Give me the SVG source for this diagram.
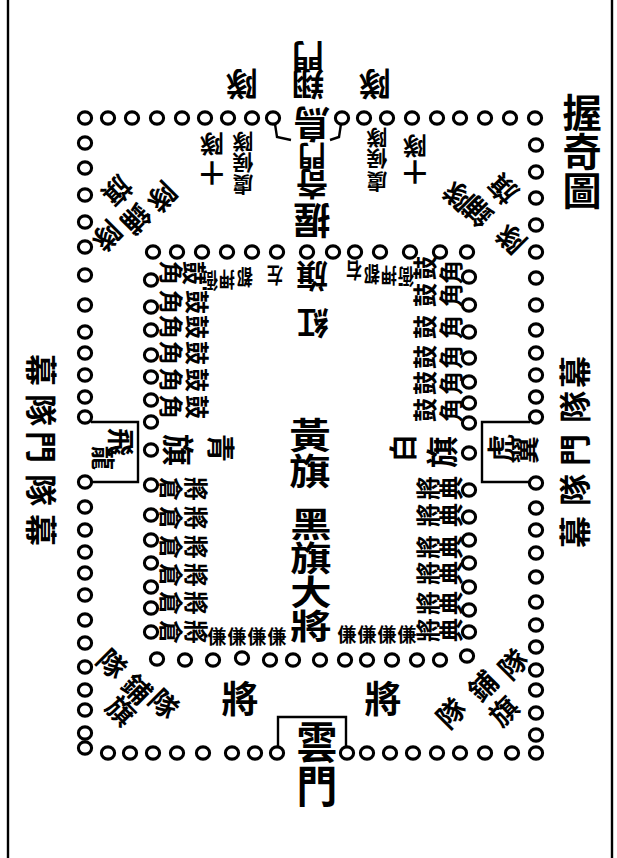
<svg xmlns="http://www.w3.org/2000/svg" width="617" height="858" viewBox="0 0 617 858">
<style>
.o{fill:none;stroke:#000;stroke-width:3.1}
.ln{fill:none;stroke:#000;stroke-width:2.4}
text{font-family:"Noto Sans CJK TC","Noto Sans CJK SC",sans-serif;font-weight:700;fill:#000;text-anchor:middle;dominant-baseline:central}
.v{writing-mode:vertical-rl}
.xl{font-size:34px}.t{font-size:34px}.l{font-size:37px}.cn{font-size:30px}.m{font-size:32px}.s{font-size:28px}.r{font-size:24px}.xs{font-size:21px}.a{font-size:19px}.h{font-size:19px}
</style>
<defs><ellipse id="o" class="o" rx="6.6" ry="6.1"/></defs>
<rect width="617" height="858" fill="#fff"/>
<g id="frame"><line class="ln" x1="8" y1="0" x2="8" y2="858"/><line class="ln" x1="612" y1="0" x2="612" y2="858"/></g>
<g id="outer-ring">
<use href="#o" x="85" y="118"/><use href="#o" x="108" y="118"/><use href="#o" x="132" y="118"/><use href="#o" x="157" y="118"/><use href="#o" x="182" y="118"/><use href="#o" x="205" y="118"/><use href="#o" x="228" y="118"/><use href="#o" x="252" y="118"/><use href="#o" x="273" y="118"/>
<use href="#o" x="342" y="118"/><use href="#o" x="364" y="118"/><use href="#o" x="387" y="118"/><use href="#o" x="412" y="118"/><use href="#o" x="437" y="118"/><use href="#o" x="460" y="118"/><use href="#o" x="485" y="118"/><use href="#o" x="510" y="118"/><use href="#o" x="535" y="118"/>
<use href="#o" x="536" y="145"/><use href="#o" x="536" y="172"/><use href="#o" x="536" y="198"/><use href="#o" x="536" y="225"/><use href="#o" x="536" y="252"/><use href="#o" x="536" y="278"/><use href="#o" x="536" y="305"/><use href="#o" x="536" y="330"/><use href="#o" x="536" y="353"/><use href="#o" x="536" y="375"/><use href="#o" x="536" y="397"/><use href="#o" x="536" y="417"/>
<use href="#o" x="536" y="483"/><use href="#o" x="536" y="508"/><use href="#o" x="536" y="530"/><use href="#o" x="536" y="553"/><use href="#o" x="536" y="577"/><use href="#o" x="536" y="602"/><use href="#o" x="536" y="625"/><use href="#o" x="536" y="647"/><use href="#o" x="536" y="670"/><use href="#o" x="536" y="690"/><use href="#o" x="536" y="713"/><use href="#o" x="536" y="735"/><use href="#o" x="536" y="753"/>
<use href="#o" x="108" y="753"/><use href="#o" x="130" y="753"/><use href="#o" x="153" y="753"/><use href="#o" x="177" y="753"/><use href="#o" x="203" y="753"/><use href="#o" x="232" y="753"/><use href="#o" x="255" y="753"/><use href="#o" x="277" y="753"/>
<use href="#o" x="347" y="753"/><use href="#o" x="367" y="753"/><use href="#o" x="390" y="753"/><use href="#o" x="413" y="753"/><use href="#o" x="437" y="753"/><use href="#o" x="460" y="753"/><use href="#o" x="485" y="753"/><use href="#o" x="512" y="753"/>
<use href="#o" x="85" y="143"/><use href="#o" x="85" y="168"/><use href="#o" x="85" y="195"/><use href="#o" x="85" y="222"/><use href="#o" x="85" y="247"/><use href="#o" x="85" y="275"/><use href="#o" x="85" y="305"/><use href="#o" x="85" y="332"/><use href="#o" x="85" y="353"/><use href="#o" x="85" y="375"/><use href="#o" x="85" y="397"/><use href="#o" x="85" y="417"/>
<use href="#o" x="85" y="482"/><use href="#o" x="85" y="507"/><use href="#o" x="85" y="530"/><use href="#o" x="85" y="552"/><use href="#o" x="85" y="573"/><use href="#o" x="85" y="595"/><use href="#o" x="85" y="620"/><use href="#o" x="85" y="643"/><use href="#o" x="85" y="667"/><use href="#o" x="85" y="690"/><use href="#o" x="85" y="710"/><use href="#o" x="85" y="733"/><use href="#o" x="85" y="748"/>
</g>
<g id="inner-ring">
<use href="#o" x="153" y="252"/><use href="#o" x="177" y="252"/><use href="#o" x="202" y="252"/><use href="#o" x="227" y="252"/><use href="#o" x="252" y="252"/><use href="#o" x="277" y="252"/><use href="#o" x="307" y="252"/><use href="#o" x="333" y="252"/><use href="#o" x="355" y="252"/><use href="#o" x="380" y="252"/><use href="#o" x="410" y="252"/><use href="#o" x="440" y="252"/><use href="#o" x="467" y="252"/>
<use href="#o" x="469" y="277"/><use href="#o" x="469" y="305"/><use href="#o" x="469" y="332"/><use href="#o" x="469" y="358"/><use href="#o" x="469" y="382"/><use href="#o" x="469" y="403"/><use href="#o" x="469" y="423"/><use href="#o" x="469" y="453"/><use href="#o" x="469" y="490"/><use href="#o" x="469" y="517"/><use href="#o" x="469" y="540"/><use href="#o" x="469" y="563"/><use href="#o" x="469" y="587"/><use href="#o" x="469" y="610"/><use href="#o" x="469" y="632"/>
<use href="#o" x="157" y="659"/><use href="#o" x="185" y="660"/><use href="#o" x="213" y="660"/><use href="#o" x="242" y="658"/><use href="#o" x="270" y="660"/><use href="#o" x="293" y="660"/><use href="#o" x="320" y="660"/><use href="#o" x="345" y="660"/><use href="#o" x="367" y="660"/><use href="#o" x="392" y="660"/><use href="#o" x="417" y="660"/><use href="#o" x="440" y="660"/><use href="#o" x="467" y="656"/>
<use href="#o" x="151" y="280"/><use href="#o" x="151" y="307"/><use href="#o" x="151" y="330"/><use href="#o" x="151" y="355"/><use href="#o" x="151" y="377"/><use href="#o" x="151" y="400"/><use href="#o" x="151" y="422"/><use href="#o" x="151" y="450"/><use href="#o" x="151" y="485"/><use href="#o" x="151" y="515"/><use href="#o" x="151" y="540"/><use href="#o" x="151" y="563"/><use href="#o" x="151" y="587"/><use href="#o" x="151" y="608"/><use href="#o" x="151" y="632"/>
</g>
<g id="connectors">
<path class="ln" d="M275 124 L277 137 L291 140"/>
<path class="ln" d="M341 124 L339 137 L330 140"/>
<path class="ln" d="M91 422 H138 V482 H91"/>
<path class="ln" d="M530 422 H482 V482 H530"/>
<path class="ln" d="M278 747 V717 H346 V747"/>
</g>
<g id="title">
<text class="t v" transform="translate(582,151) scale(1.15,1.15)">握奇圖</text>
</g>
<g id="gate-top">
<text class="m" transform="translate(308,58) rotate(180)">門</text>
<text class="m" transform="translate(308,86) rotate(180)">翔</text>
<text class="m" transform="translate(242,86) rotate(180)">隊</text>
<text class="m" transform="translate(375,86) rotate(180)">隊</text>
<text class="l" transform="translate(312,126) rotate(180)">鳥</text>
</g>
<g id="top-centre">
<text class="s" transform="translate(312,157) rotate(180)">門</text>
<text class="m" transform="translate(312,186) rotate(180)">奇</text>
<text class="l" transform="translate(312,222) rotate(180)">握</text>
</g>
<g id="top-left-squads">
<text class="r" transform="translate(212,145) rotate(180)">隊</text>
<text class="r" transform="translate(212,174) rotate(180)">十</text>
<text class="xs" transform="translate(243,143) rotate(180)">隊</text>
<text class="xs" transform="translate(243,164) rotate(180)">候</text>
<text class="xs" transform="translate(243,186) rotate(180)">虞</text>
</g>
<g id="top-right-squads">
<text class="xs" transform="translate(377,139) rotate(180)">隊</text>
<text class="xs" transform="translate(377,160) rotate(180)">候</text>
<text class="xs" transform="translate(377,183) rotate(180)">虞</text>
<text class="r" transform="translate(415,147) rotate(180)">隊</text>
<text class="r" transform="translate(415,173) rotate(180)">十</text>
</g>
<g id="corner-ul">
<text class="s" transform="translate(163,198) rotate(135)">隊</text>
<text class="s" transform="translate(137,220) rotate(135)">鋪</text>
<text class="s" transform="translate(108,237) rotate(135)">隊</text>
<text class="s" transform="translate(118,192) rotate(135)">旗</text>
</g>
<g id="corner-ur">
<text class="s" transform="translate(510,240) rotate(-135)">隊</text>
<text class="s" transform="translate(477,213) rotate(-135)">鋪</text>
<text class="s" transform="translate(457,197) rotate(-135)">隊</text>
<text class="s" transform="translate(502,190) rotate(-135)">旗</text>
</g>
<g id="corner-bl">
<text class="s" transform="translate(113,663) rotate(45)">隊</text>
<text class="s" transform="translate(138,688) rotate(45)">鋪</text>
<text class="s" transform="translate(165,703) rotate(45)">隊</text>
<text class="s" transform="translate(122,710) rotate(45)">旗</text>
</g>
<g id="corner-br">
<text class="s" transform="translate(450,712) rotate(-45)">隊</text>
<text class="s" transform="translate(482,685) rotate(-45)">鋪</text>
<text class="s" transform="translate(512,663) rotate(-45)">隊</text>
<text class="s" transform="translate(503,710) rotate(-45)">旗</text>
</g>
<g id="side-left">
<text class="m" transform="translate(43,370) rotate(90)">幕</text>
<text class="m" transform="translate(43,410) rotate(90)">隊</text>
<text class="m" transform="translate(43,447) rotate(90)">門</text>
<text class="m" transform="translate(43,490) rotate(90)">隊</text>
<text class="m" transform="translate(43,530) rotate(90)">幕</text>
</g>
<g id="side-right">
<text class="m" transform="translate(573,372) rotate(-90)">幕</text>
<text class="m" transform="translate(573,407) rotate(-90)">隊</text>
<text class="m" transform="translate(573,450) rotate(-90)">門</text>
<text class="m" transform="translate(573,490) rotate(-90)">隊</text>
<text class="m" transform="translate(573,532) rotate(-90)">幕</text>
</g>
<g id="gate-left">
<text class="s" transform="translate(122,442) rotate(90)">飛</text>
<text class="r" transform="translate(104,458) rotate(90)">龍</text>
</g>
<g id="gate-right">
<text class="s" transform="translate(500,448) rotate(-90)">虎</text>
<text class="s" transform="translate(524,450) rotate(-90)">翼</text>
</g>
<g id="gate-bottom">
<text class="xl v" transform="translate(317,764) scale(1.2,1.3)">雲門</text>
</g>
<g id="generals">
<text class="l" x="240" y="697">將</text>
<text class="l" x="383" y="697">將</text>
</g>
<g id="red-flag">
<text class="m" transform="translate(312,278) rotate(180)">旗</text>
<text class="m" transform="translate(313,325) rotate(180)">紅</text>
</g>
<g id="officers-left">
<text class="h" transform="translate(275,278) rotate(180) scale(0.85,1.1)">左</text>
<text class="h" transform="translate(245,280) rotate(180) scale(0.85,1.1)">都</text>
<text class="h" transform="translate(227,282) rotate(180) scale(0.85,1.1)">押</text>
<text class="h" transform="translate(210,283) rotate(180) scale(0.85,1.1)">衙</text>
</g>
<g id="officers-right">
<text class="h" transform="translate(354,273) rotate(180) scale(0.85,1.1)">右</text>
<text class="h" transform="translate(372,277) rotate(180) scale(0.85,1.1)">都</text>
<text class="h" transform="translate(389,278) rotate(180) scale(0.85,1.1)">押</text>
<text class="h" transform="translate(406,279) rotate(180) scale(0.85,1.1)">衙</text>
</g>
<g id="drums-left">
<text class="r" transform="translate(172,273) rotate(90)">角</text><text class="r" transform="translate(195,273) rotate(90)">鼓</text>
<text class="r" transform="translate(172,302) rotate(90)">角</text><text class="r" transform="translate(198,302) rotate(90)">鼓</text>
<text class="r" transform="translate(172,327) rotate(90)">角</text><text class="r" transform="translate(198,327) rotate(90)">鼓</text>
<text class="r" transform="translate(172,353) rotate(90)">角</text><text class="r" transform="translate(198,353) rotate(90)">鼓</text>
<text class="r" transform="translate(172,380) rotate(90)">角</text><text class="r" transform="translate(198,380) rotate(90)">鼓</text>
<text class="r" transform="translate(172,407) rotate(90)">角</text><text class="r" transform="translate(198,407) rotate(90)">鼓</text>
</g>
<g id="drums-right">
<text class="r" transform="translate(423,268) rotate(-90)">鼓</text><text class="r" transform="translate(449,272) rotate(-90)">角</text>
<text class="r" transform="translate(423,295) rotate(-90)">鼓</text><text class="r" transform="translate(449,295) rotate(-90)">角</text>
<text class="r" transform="translate(423,327) rotate(-90)">鼓</text><text class="r" transform="translate(449,327) rotate(-90)">角</text>
<text class="r" transform="translate(423,357) rotate(-90)">鼓</text><text class="r" transform="translate(449,357) rotate(-90)">角</text>
<text class="r" transform="translate(423,383) rotate(-90)">鼓</text><text class="r" transform="translate(449,383) rotate(-90)">角</text>
<text class="r" transform="translate(423,410) rotate(-90)">鼓</text><text class="r" transform="translate(449,410) rotate(-90)">角</text>
</g>
<g id="blue-flag">
<text class="m" transform="translate(180,450) rotate(90)">旗</text>
<text class="s" transform="translate(222,448) rotate(90)">青</text>
</g>
<g id="white-flag">
<text class="s" transform="translate(402,448) rotate(-90)">白</text>
<text class="m" transform="translate(440,452) rotate(-90)">旗</text>
</g>
<g id="captains-left">
<text class="r" transform="translate(172,489) rotate(90)">倉</text><text class="r" transform="translate(197,489) rotate(90)">將</text>
<text class="r" transform="translate(172,518) rotate(90)">倉</text><text class="r" transform="translate(197,518) rotate(90)">將</text>
<text class="r" transform="translate(172,547) rotate(90)">倉</text><text class="r" transform="translate(197,547) rotate(90)">將</text>
<text class="r" transform="translate(172,575) rotate(90)">倉</text><text class="r" transform="translate(197,575) rotate(90)">將</text>
<text class="r" transform="translate(172,603) rotate(90)">倉</text><text class="r" transform="translate(197,603) rotate(90)">將</text>
<text class="r" transform="translate(172,632) rotate(90)">倉</text><text class="r" transform="translate(197,632) rotate(90)">將</text>
</g>
<g id="captains-right">
<text class="r" transform="translate(426,488) rotate(-90)">將</text><text class="r" transform="translate(449,488) rotate(-90)">典</text>
<text class="r" transform="translate(426,515) rotate(-90)">將</text><text class="r" transform="translate(449,515) rotate(-90)">典</text>
<text class="r" transform="translate(426,547) rotate(-90)">將</text><text class="r" transform="translate(449,547) rotate(-90)">典</text>
<text class="r" transform="translate(426,573) rotate(-90)">將</text><text class="r" transform="translate(449,573) rotate(-90)">典</text>
<text class="r" transform="translate(426,603) rotate(-90)">將</text><text class="r" transform="translate(449,603) rotate(-90)">典</text>
<text class="r" transform="translate(426,630) rotate(-90)">將</text><text class="r" transform="translate(449,630) rotate(-90)">典</text>
</g>
<g id="attendants">
<text class="a" x="217" y="635">傔</text><text class="a" x="237" y="635">傔</text><text class="a" x="257" y="635">傔</text><text class="a" x="277" y="635">傔</text>
<text class="a" x="347" y="633">傔</text><text class="a" x="367" y="633">傔</text><text class="a" x="387" y="633">傔</text><text class="a" x="407" y="633">傔</text>
</g>
<g id="centre">
<text class="cn v" transform="translate(310,453) scale(1.38,1.2)">黃旗</text>
<text class="cn v" transform="translate(311,575) scale(1.38,1.13)">黑旗大將</text>
</g>
</svg>
